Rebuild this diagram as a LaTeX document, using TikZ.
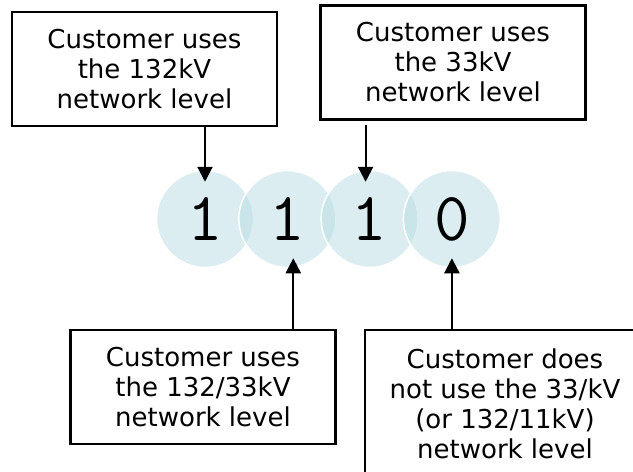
\documentclass[tikz,border=0pt]{standalone}
\usepackage{fontspec}
\setmainfont{DejaVu Sans}
\usetikzlibrary{positioning, arrows.meta}

\definecolor{bitfill}{RGB}{183,220,226}

\begin{document}
\begin{tikzpicture}[x=1pt, y=-1pt, node distance=82.3pt, on grid,
        bit/.style={circle, minimum size=97pt, inner sep=0pt, fill=bitfill, fill opacity=0.5, text opacity=1,
                draw=white, line width=1.5pt, font=\ttfamily\fontsize{69}{69}\selectfont},
        note/.style={draw, line width=2.6pt, align=center, minimum width=265pt, minimum height=114pt,
                inner sep=0pt, font=\fontsize{26}{30}\selectfont},
        pointer/.style={-{Triangle[length=15pt, width=15pt]}, line width=2.2pt}]
        \useasboundingbox (0,0) rectangle (633,472);
        \clip (0,0) rectangle (633,472);
        \node[bit] (d1) at (205,219) {1};
        \node[bit, right=of d1] (d2) {1};
        \node[bit, right=of d2] (d3) {1};
        \node[bit, right=of d3] (d4) {0};
        \node[note] (n132) at (144.5,69) {Customer uses\\the 132kV\\network level};
        \node[note] (n33) at (453,62.5) {Customer uses\\the 33kV\\network level};
        \node[note] (n13233) at (203,387) {Customer uses\\the 132/33kV\\network level};
        \node[note, minimum width=280pt, minimum height=148pt] (nnot) at (505,404)
                {Customer does\\not use the 33/kV\\(or 132/11kV)\\network level};
        \draw[pointer, shorten >=-12pt] (n132.south -| d1.north) -- (d1.north);
        \draw[pointer, shorten <=4pt, shorten >=-12pt] ([xshift=-4pt]n33.south -| d3.north) -- ([xshift=-4pt]d3.north);
        \draw[pointer, shorten >=-10pt] ([xshift=6pt]nnot.north -| d2.south) -- ([xshift=6pt]d2.south);
        \draw[pointer, shorten >=-10pt] (nnot.north -| d4.south) -- (d4.south);
\end{tikzpicture}
\end{document}
